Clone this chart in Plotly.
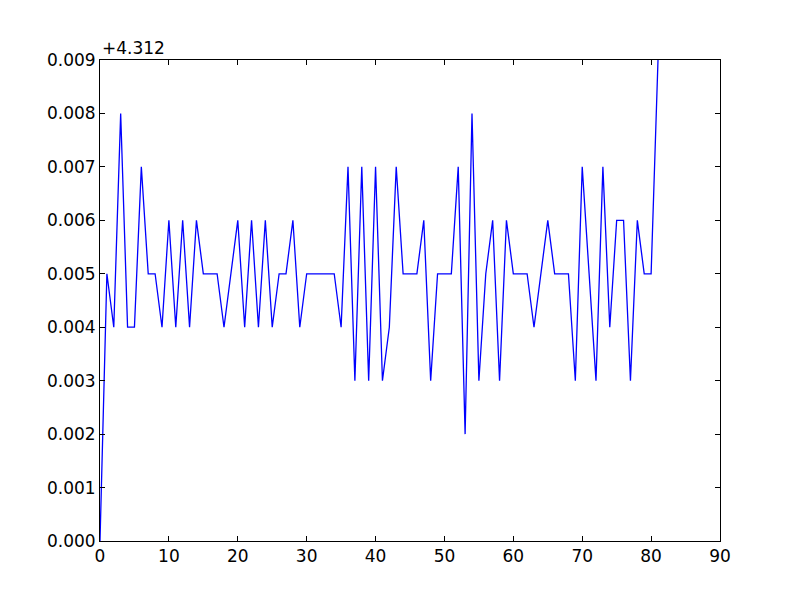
import plotly.graph_objects as go

# Data: values (offset from 4.312, in thousandths)
offset = 4.312
steps = [0, 5, 4, 8, 4, 4, 7, 5, 5, 4,
         6, 4, 6, 4, 6, 5, 5, 5, 4, 5,
         6, 4, 6, 4, 6, 4, 5, 5, 6, 4,
         5, 5, 5, 5, 5, 4, 7, 3, 7, 3,
         7, 3, 4, 7, 5, 5, 5, 6, 3, 5,
         5, 5, 7, 2, 8, 3, 5, 6, 3, 6,
         5, 5, 5, 4, 5, 6, 5, 5, 5, 3,
         7, 5, 3, 7, 4, 6, 6, 3, 6, 5,
         5, 9]
x = list(range(len(steps)))
y = [offset + s / 1000 for s in steps]

x_ticks = [0, 10, 20, 30, 40, 50, 60, 70, 80, 90]
y_tick_offsets = [0, 1, 2, 3, 4, 5, 6, 7, 8, 9]
y_tickvals = [offset + t / 1000 for t in y_tick_offsets]
y_ticktext = ['%.3f' % (t / 1000) for t in y_tick_offsets]

fig = go.Figure()
fig.add_trace(go.Scatter(
    x=x,
    y=y,
    mode='lines',
    line=dict(color='#0000ff', width=1.3),
    cliponaxis=True,
))

axis_style = dict(
    showline=True,
    linecolor='black',
    linewidth=1,
    mirror='ticks',
    ticks='inside',
    ticklen=5,
    tickcolor='black',
    tickwidth=1,
    showgrid=False,
    zeroline=False,
)

# page adds ~8px body margin, so shift plot area up/left
fig.update_layout(
    width=800,
    height=600,
    margin=dict(l=92, r=88, t=52, b=67),
    paper_bgcolor='white',
    plot_bgcolor='white',
    showlegend=False,
    font=dict(family='DejaVu Sans', size=17, color='black'),
    xaxis=dict(range=[0, 90], tickvals=x_ticks, **axis_style),
    yaxis=dict(range=[offset, offset + 0.009], tickvals=y_tickvals,
               ticktext=y_ticktext, **axis_style),
)

# offset label like matplotlib
fig.add_annotation(
    text='+4.312', xref='paper', yref='paper', x=0, y=1,
    xanchor='left', yanchor='bottom', showarrow=False,
    font=dict(family='DejaVu Sans', size=17, color='black'),
)

fig.write_html('out.html')
